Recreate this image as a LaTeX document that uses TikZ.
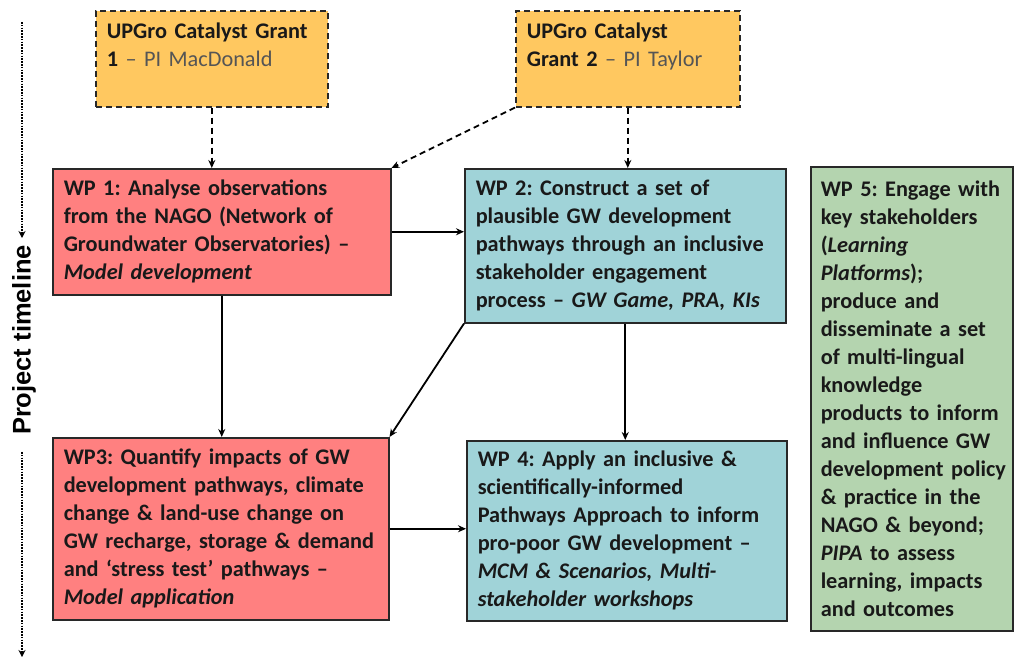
\documentclass[tikz,border=0pt]{standalone}
\usepackage{fontspec}
\setmainfont{Carlito}
\newfontfamily\timelinefont{Liberation Sans}
\usetikzlibrary{arrows.meta}

\definecolor{grantfill}{RGB}{255,200,96}
\definecolor{wpred}{RGB}{255,128,128}
\definecolor{wpteal}{RGB}{160,211,216}
\definecolor{wpgreen}{RGB}{180,212,175}
\definecolor{ink}{RGB}{25,25,25}
\definecolor{softink}{RGB}{85,85,85}
\definecolor{edge}{RGB}{40,40,40}

\begin{document}
\frenchspacing
\begin{tikzpicture}[x=1pt,y=-1pt,
  textblock/.style={anchor=north west, inner xsep=2pt, inner ysep=0pt,
    align=left, text=ink, execute at begin node={\frenchspacing\leftskip=9pt},
    font=\fontsize{22.3}{28}\selectfont},
  wpbox/.style={textblock, draw=edge, line width=1.5pt, font=\bfseries\fontsize{22.3}{28}\selectfont},
  grantbox/.style={textblock, draw=edge, line width=1.6pt, dashed,
    dash pattern=on 6pt off 4pt, fill=grantfill},
  link/.style={draw=black, line width=1.8pt, -{Stealth[length=8pt,width=7pt]}},
  dashlink/.style={link, dash pattern=on 6pt off 4pt},
  timeline/.style={draw=black, line width=2.2pt, dash pattern=on 1.5pt off 1.3pt,
    -{Stealth[length=7pt,width=7pt]}}
]
\useasboundingbox (0,0) rectangle (1014,659);

% funding grants
\node[grantbox, minimum width=232, minimum height=96, text width=228] (g1) at (95,10)
  {\textbf{UPGro Catalyst Grant}\\ \textbf{1} {\color{softink}– PI MacDonald}\\ \mbox{}};
\node[grantbox, minimum width=224, minimum height=96, text width=220] (g2) at (515,10)
  {\textbf{UPGro Catalyst}\\ \textbf{Grant 2} {\color{softink}– PI Taylor}\\ \mbox{}};

% work packages
\node[wpbox, fill=wpred, minimum width=338, minimum height=126, text width=334] (wp1) at (52,168)
  {WP 1: Analyse observations\\
   from the NAGO (Network of\\
   Groundwater Observatories) –\\
   \textit{Model development}};
\node[wpbox, fill=wpteal, minimum width=321, minimum height=154, text width=317] (wp2) at (464,168)
  {WP 2: Construct a set of\\
   plausible GW development\\
   pathways through an inclusive\\
   stakeholder engagement\\
   process – \textit{GW Game, PRA, KIs}};
\node[wpbox, fill=wpred, minimum width=336, minimum height=182, text width=332] (wp3) at (52,437)
  {WP3: Quantify impacts of GW\\
   development pathways, climate\\
   change \& land-use change on\\
   GW recharge, storage \& demand\\
   and ‘stress test’ pathways –\\
   \textit{Model application}};
\node[wpbox, fill=wpteal, minimum width=320, minimum height=180, text width=316] (wp4) at (466,440)
  {WP 4: Apply an inclusive \&\\
   scientifically-informed\\
   Pathways Approach to inform\\
   pro-poor GW development –\\
   \textit{MCM \& Scenarios, Multi-}\\
   \textit{stakeholder workshops}};
\node[wpbox, fill=wpgreen, minimum width=202, minimum height=464, text width=198,
      execute at begin node={\frenchspacing\leftskip=8pt\hyphenpenalty=10000}] (wp5) at (810,166)
  {WP 5: Engage with\\
   key stakeholders\\
   (\textit{Learning}\\
   \textit{Platforms});\\
   produce and\\
   disseminate a set\\
   of multi-lingual\\
   knowledge\\
   products to inform\\
   and influence GW\\
   development policy\\
   \& practice in the\\
   NAGO \& beyond;\\
   \textit{PIPA} to assess\\
   learning, impacts\\
   and outcomes};

% grant links
\draw[dashlink] (g1.south) -- (g1.south |- wp1.north);
\draw[dashlink] (g2.south) -- (g2.south |- wp2.north);
\draw[dashlink] (g2.south west) -- (wp1.north east);

% work package links
\draw[link] (wp1.east) -- (wp1.east -| wp2.west);
\draw[link] (wp1.south) -- (wp1.south |- wp3.north);
\draw[link] (wp2.south west) -- (wp3.north east);
\draw[link] (wp2.south) -- (wp2.south |- wp4.north);
\draw[link] (wp3.east) -- (wp3.east -| wp4.west);

% project timeline
\coordinate (tl1) at (22,22);
\coordinate (tl2) at (22,238);
\coordinate (tl3) at (22,452);
\coordinate (tl4) at (22,657);
\node[rotate=90, inner sep=0pt, text=black, font=\timelinefont\bfseries\fontsize{25.5}{30}\selectfont]
  (tlabel) at (24,340) {Project timeline};
\draw[timeline] (tl1) -- (tl2);
\draw[timeline] (tl3) -- (tl4);
\end{tikzpicture}
\end{document}
